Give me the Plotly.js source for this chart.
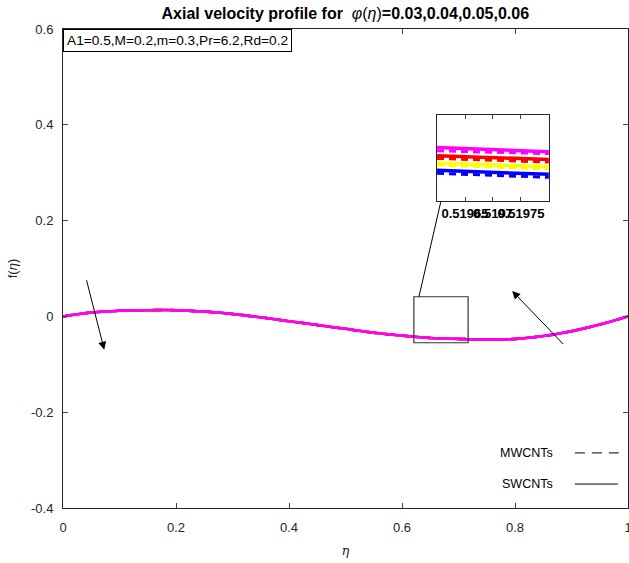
<!DOCTYPE html>
<html>
<head>
<meta charset="utf-8">
<script src="https://cdn.plot.ly/plotly-3.0.1.min.js"></script>
<style>html,body{margin:0;padding:0;background:#fff;}#chart{width:629px;height:563px;}</style>
</head>
<body>
<div id="chart"></div>
<script>
// Main curve (all phi values coincide at this scale)
const eta = [0, 0.05, 0.1, 0.15, 0.2, 0.25, 0.3, 0.35, 0.4, 0.45, 0.5, 0.55, 0.6, 0.65, 0.7, 0.75, 0.8, 0.85, 0.9, 0.95, 1];
const fMain = [0, 0.008, 0.012, 0.013, 0.013, 0.010, 0.005, -0.002, -0.010, -0.018, -0.026, -0.034, -0.040, -0.045, -0.047, -0.048, -0.047, -0.041, -0.031, -0.017, 0];

const seriesNames = ['φ=0.03', 'φ=0.04', 'φ=0.05', 'φ=0.06'];
const seriesColors = ['#0000ff', '#ffff00', '#ff0000', '#ff00ff'];

// Inset (zoomed) values
const insetX = [0.5196, 0.5198];
const insetSW = [
  [-0.030386, -0.030466],
  [-0.030240, -0.030314],
  [-0.030094, -0.030166],
  [-0.029926, -0.030014]
];
const insetMW = [
  [-0.030446, -0.030526],
  [-0.030280, -0.030360],
  [-0.030146, -0.030220],
  [-0.029994, -0.030050]
];
const insetTicks = [0.51965, 0.5197, 0.51975];
const insetTickText = ['0.51965', '0.5197', '0.51975'];
const xTicks = [0, 0.2, 0.4, 0.6, 0.8, 1];
const xTickText = ['0', '0.2', '0.4', '0.6', '0.8', '1'];
const yTicks = [-0.4, -0.2, 0, 0.2, 0.4, 0.6];
const yTickText = ['-0.4', '-0.2', '0', '0.2', '0.4', '0.6'];

const traces = [];
for (let i = 0; i < 4; i++) {
  traces.push({x: eta, y: fMain, type: 'scatter', mode: 'lines', name: seriesNames[i] + ' MWCNTs',
    line: {color: seriesColors[i], width: 2.5, dash: 'dash', shape: 'spline'}, showlegend: false, hoverinfo: 'skip'});
  traces.push({x: eta, y: fMain, type: 'scatter', mode: 'lines', name: seriesNames[i] + ' SWCNTs',
    line: {color: seriesColors[i], width: 2.5, shape: 'spline'}, showlegend: false, hoverinfo: 'skip'});
}
for (let i = 0; i < 4; i++) {
  traces.push({x: insetX, y: insetMW[i], xaxis: 'x2', yaxis: 'y2', type: 'scatter', mode: 'lines',
    line: {color: seriesColors[i], width: 3, dash: '7px,5px'}, showlegend: false, hoverinfo: 'skip'});
  traces.push({x: insetX, y: insetSW[i], xaxis: 'x2', yaxis: 'y2', type: 'scatter', mode: 'lines',
    line: {color: seriesColors[i], width: 3.5}, showlegend: false, hoverinfo: 'skip'});
}

const axColor = '#262626';
const layout = {
  width: 629, height: 563,
  margin: {l: 63, r: 1, t: 29, b: 55},
  paper_bgcolor: '#fff', plot_bgcolor: '#fff',
  font: {family: 'Liberation Sans, Arial, sans-serif', size: 13, color: axColor},
  title: {text: '<b>Axial velocity profile for  </b><i>φ</i>(<i>η</i>)<b>=0.03,0.04,0.05,0.06</b>',
    font: {size: 16, color: '#000'}, x: 0.549, xanchor: 'center', y: 0.977, yanchor: 'middle'},
  xaxis: {range: [0, 1], tickvals: xTicks, ticktext: xTickText, ticks: 'inside', ticklen: 5,
    ticklabelstandoff: 7, ticklabeloverflow: 'allow',
    showline: true, mirror: 'ticks', linecolor: axColor, linewidth: 1, showgrid: false, zeroline: false,
    title: {text: '<i>η</i>', font: {family: 'DejaVu Serif, serif', size: 13, color: axColor}, standoff: 12}},
  yaxis: {range: [-0.4, 0.6], tickvals: yTicks, ticktext: yTickText, ticks: 'inside', ticklen: 5,
    ticklabelstandoff: 6,
    showline: true, mirror: 'ticks', linecolor: axColor, linewidth: 1, showgrid: false, zeroline: false,
    title: {text: 'f(<i>η</i>)', font: {size: 13, color: axColor}, standoff: 10}},
  xaxis2: {domain: [0.662, 0.860], anchor: 'y2', range: [0.5196, 0.5198], tickvals: insetTicks, ticktext: insetTickText,
    tickangle: 0, ticks: 'inside', ticklen: 4, showline: true, mirror: 'ticks', linecolor: axColor, linewidth: 1.5,
    showgrid: false, zeroline: false, ticklabeloverflow: 'allow',
    tickfont: {size: 13, color: '#000', family: 'Liberation Sans, Arial, sans-serif', weight: 'bold'}},
  yaxis2: {domain: [0.641, 0.820], anchor: 'x2', range: [-0.031, -0.02928], showticklabels: false, ticks: '',
    showline: true, mirror: true, linecolor: axColor, linewidth: 1.5, showgrid: false, zeroline: false},
  shapes: [
    {type: 'rect', xref: 'x', yref: 'y', x0: 0.621, x1: 0.717, y0: -0.055, y1: 0.041, line: {color: '#333', width: 1.2}},
    {type: 'line', xref: 'x', yref: 'y', x0: 0.669, y0: 0.241, x1: 0.630, y1: 0.041, line: {color: '#000', width: 1}},
    {type: 'line', xref: 'paper', yref: 'paper', x0: 0.906, x1: 0.985, y0: 0.115, y1: 0.115, line: {color: '#000', width: 1, dash: '10px,7px'}},
    {type: 'line', xref: 'paper', yref: 'paper', x0: 0.906, x1: 0.982, y0: 0.050, y1: 0.050, line: {color: '#000', width: 1}}
  ],
  annotations: [
    {xref: 'paper', yref: 'paper', x: 0, y: 1, xanchor: 'left', yanchor: 'top', showarrow: false,
      text: 'A1=0.5,M=0.2,m=0.3,Pr=6.2,Rd=0.2', font: {size: 13.7, color: '#000'},
      bordercolor: '#000', borderwidth: 1, borderpad: 3, bgcolor: '#fff'},
    {xref: 'paper', yref: 'paper', x: 0.87, y: 0.115, xanchor: 'right', yanchor: 'middle', showarrow: false,
      text: 'MWCNTs', font: {size: 12.5, color: '#000'}},
    {xref: 'paper', yref: 'paper', x: 0.87, y: 0.050, xanchor: 'right', yanchor: 'middle', showarrow: false,
      text: 'SWCNTs', font: {size: 12.5, color: '#000'}},
    {xref: 'x', yref: 'y', ax: 0.041, ay: 0.0785, axref: 'x', ayref: 'y', x: 0.073, y: -0.0697,
      showarrow: true, arrowhead: 2, arrowsize: 1.6, arrowwidth: 1, arrowcolor: '#000', text: ''},
    {xref: 'x', yref: 'y', ax: 0.888, ay: -0.061, axref: 'x', ayref: 'y', x: 0.795, y: 0.053,
      showarrow: true, arrowhead: 2, arrowsize: 1.6, arrowwidth: 1, arrowcolor: '#000', text: ''}
  ]
};

Plotly.newPlot('chart', traces, layout, {staticPlot: true, displayModeBar: false});
</script>
</body>
</html>
